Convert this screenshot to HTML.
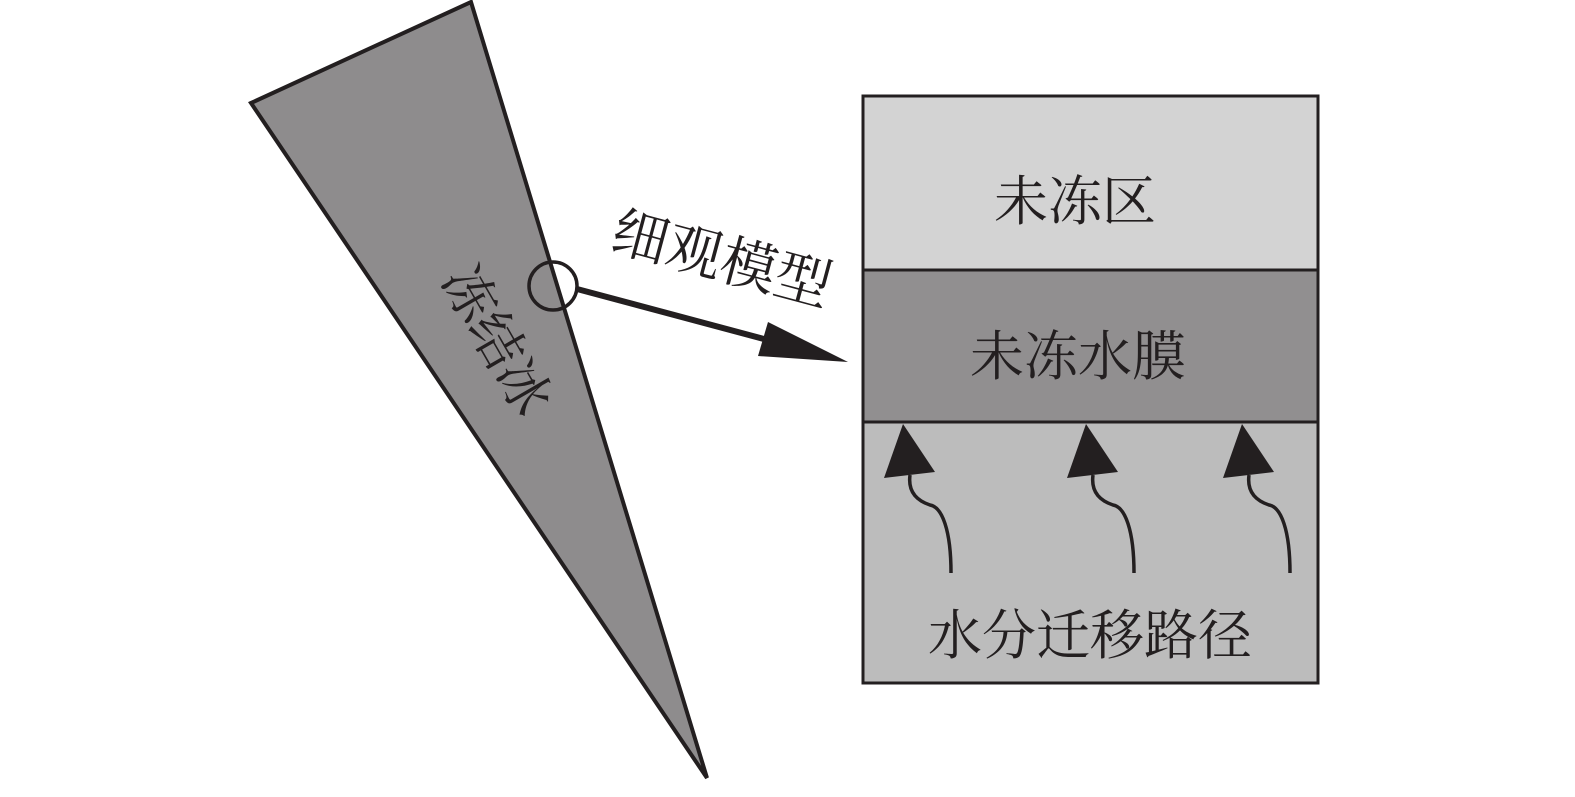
<!DOCTYPE html>
<html><head><meta charset="utf-8"><style>
body{margin:0;background:#fff}
svg text{font-family:"Liberation Serif","Noto Serif CJK SC",serif;fill:#231f20}
</style></head><body>
<svg width="1575" height="792" viewBox="0 0 1575 792">
<polygon points="251,103 471,2 707,778" fill="#8e8c8d" stroke="#231f20" stroke-width="4" stroke-linejoin="miter"/>
<text x="497" y="359" font-size="54" text-anchor="middle" transform="rotate(60 497 340)">冻结冰</text>
<circle cx="553" cy="286" r="24" fill="none" stroke="#231f20" stroke-width="3.5"/>
<line x1="577" y1="289" x2="775" y2="342" stroke="#231f20" stroke-width="6"/>
<polygon points="848,362 768,322 758,356" fill="#231f20"/>
<text x="722" y="278" font-size="56" text-anchor="middle" transform="rotate(15 722 258)">细观模型</text>
<rect x="863" y="96" width="455" height="174" fill="#d3d3d3"/>
<rect x="863" y="270" width="455" height="152" fill="#918f90"/>
<rect x="863" y="422" width="455" height="261" fill="#bcbcbc"/>
<line x1="863" y1="270" x2="1318" y2="270" stroke="#231f20" stroke-width="3"/>
<line x1="863" y1="422" x2="1318" y2="422" stroke="#231f20" stroke-width="3"/>
<rect x="863" y="96" width="455" height="587" fill="none" stroke="#231f20" stroke-width="3"/>
<text x="1075" y="220" font-size="54" text-anchor="middle">未冻区</text>
<text x="1078" y="375" font-size="54" text-anchor="middle">未冻水膜</text>
<text x="1090" y="654" font-size="54" text-anchor="middle">水分迁移路径</text>
<g fill="none" stroke="#231f20" stroke-width="3.5">
<path d="M951,573 C951,530 942,507 930,505 C915,500 908,490 910,475"/>
<path d="M1134,573 C1134,530 1125,507 1113,505 C1098,500 1091,490 1093,475"/>
<path d="M1290,573 C1290,530 1281,507 1269,505 C1254,500 1247,490 1249,475"/>
</g>
<g fill="#231f20">
<polygon points="903,424 884,478 935,472"/>
<polygon points="1086,424 1067,478 1118,472"/>
<polygon points="1242,424 1223,478 1274,472"/>
</g>
</svg>
</body></html>
